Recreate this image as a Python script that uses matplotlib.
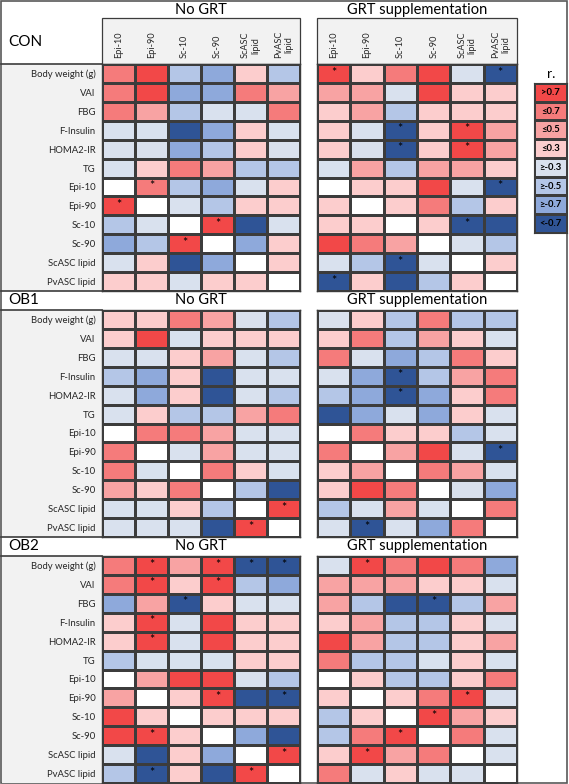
import numpy as np
import matplotlib
matplotlib.use('Agg')
import matplotlib.pyplot as plt
from matplotlib.colors import ListedColormap, BoundaryNorm
from matplotlib.patches import Rectangle

plt.rcParams['font.family'] = ['Lato', 'DejaVu Sans']

rows = ['Body weight (g)', 'VAI', 'FBG', 'F-Insulin', 'HOMA2-IR', 'TG',
        'Epi-10', 'Epi-90', 'Sc-10', 'Sc-90', 'ScASC lipid', 'PvASC lipid']
cols = ['Epi-10', 'Epi-90', 'Sc-10', 'Sc-90', 'ScASC\nlipid', 'PvASC\nlipid']
groups = ['CON', 'OB1', 'OB2']
treatments = ['No GRT', 'GRT supplementation']

# r bins: 4 >0.7, 3 <=0.7, 2 <=0.5, 1 <=0.3, -1 >=-0.3, -2 >=-0.5, -3 >=-0.7, -4 <-0.7, 0 = self
con_no = [[3, 4, -2, -3, 1, -2],
          [3, 4, -3, -3, 3, 2],
          [3, 2, -2, -1, -1, 3],
          [-1, -1, -4, -3, 1, -1],
          [-1, -1, -3, -2, 1, -1],
          [-1, 1, 3, 2, -2, -2],
          [0, 3, -2, -3, -1, 1],
          [4, 0, -1, -2, 1, 1],
          [-2, -1, 0, 4, -4, -1],
          [-3, -2, 4, 0, -3, 1],
          [-1, 1, -4, -3, 0, 1],
          [1, 1, -1, 1, 1, 0]]
con_grt = [[4, 1, 3, 4, -1, -4],
           [2, 2, -1, 4, 1, 1],
           [1, 2, -2, 1, 1, 1],
           [1, -1, -4, 1, 4, 2],
           [1, -1, -4, 1, 4, 2],
           [-1, 2, -2, 2, 2, 1],
           [0, 1, 1, 4, -1, -4],
           [1, 0, 1, 3, -2, 1],
           [1, 1, 0, 1, -4, -4],
           [4, 3, 2, 0, -1, -2],
           [-1, -2, -4, -1, 0, 1],
           [-4, 1, -4, -2, 1, 0]]
ob1_no = [[1, 1, 3, 2, -1, -2],
          [1, 4, -1, 1, 1, 1],
          [-1, -1, 1, 2, -1, -2],
          [-2, -3, 1, -4, -1, -1],
          [-1, -3, 1, -4, -1, -2],
          [-1, 1, -2, -2, 2, 3],
          [0, 3, 3, 2, -1, -1],
          [3, 0, -1, 2, -1, -1],
          [3, -1, 0, 3, 1, -1],
          [2, 1, 3, 0, -2, -4],
          [-1, -1, 1, -2, 0, 4],
          [-1, -1, -1, -4, 4, 0]]
ob1_grt = [[-1, 1, -2, 3, -2, -2],
           [1, 3, -2, 2, 1, -1],
           [3, -1, -3, -2, 3, 1],
           [-1, -3, -4, -2, 2, 3],
           [-2, -3, -4, -3, 1, 3],
           [-4, -3, -1, -3, 1, -1],
           [0, 3, 1, 1, -2, -1],
           [3, 0, 2, 4, -1, -4],
           [1, 2, 0, 3, 2, -1],
           [1, 4, 3, 0, -1, -3],
           [-2, -1, 2, -1, 0, 3],
           [-1, -4, -1, -3, 3, 0]]
ob2_no = [[3, 4, 2, 4, -4, -4],
          [3, 4, 1, 4, -2, -3],
          [-3, 2, -4, 1, -1, -1],
          [1, 4, -1, 4, 1, 1],
          [1, 4, -1, 4, 1, 1],
          [-2, -1, -1, -1, 1, 1],
          [0, 2, 4, 4, -1, -2],
          [2, 0, 1, 4, -4, -4],
          [4, 1, 0, 1, 1, 1],
          [4, 4, 1, 0, -3, -4],
          [-1, -4, 1, -3, 0, 4],
          [-2, -4, 1, -4, 4, 0]]
ob2_grt = [[-1, 4, 3, 4, 3, -3],
           [2, 2, 2, 1, 1, -1],
           [2, -2, -4, -4, -2, 2],
           [1, 2, -2, -2, 1, -1],
           [4, 2, -2, -2, 1, 2],
           [3, -2, -2, -1, 1, -1],
           [0, 1, -2, -2, 1, 3],
           [1, 0, 1, 3, 4, -1],
           [-2, 1, 0, 4, 2, 1],
           [-2, 3, 4, 0, 3, -1],
           [1, 4, 2, 3, 0, -1],
           [3, -1, 1, -1, -1, 0]]

# significant cells (row, col)
con_no_sig = [(6, 1), (7, 0), (8, 3), (9, 2)]
con_grt_sig = [(0, 0), (0, 5), (3, 2), (3, 4), (4, 2), (4, 4), (6, 5), (8, 4), (10, 2), (11, 0)]
ob1_no_sig = [(10, 5), (11, 4)]
ob1_grt_sig = [(3, 2), (4, 2), (7, 5), (11, 1)]
ob2_no_sig = [(0, 1), (0, 3), (0, 4), (0, 5), (1, 1), (1, 3), (2, 2), (3, 1), (4, 1),
              (7, 3), (7, 5), (9, 1), (10, 5), (11, 1), (11, 4)]
ob2_grt_sig = [(0, 1), (2, 3), (7, 4), (8, 3), (9, 2), (10, 1)]

bin_labels = ['>0.7', '≤0.7', '≤0.5', '≤0.3', '≥-0.3', '≥-0.5', '≥-0.7', '<-0.7']
bin_levels = [4, 3, 2, 1, -1, -2, -3, -4]

panels = {('CON', 0): (con_no, con_no_sig), ('CON', 1): (con_grt, con_grt_sig),
          ('OB1', 0): (ob1_no, ob1_no_sig), ('OB1', 1): (ob1_grt, ob1_grt_sig),
          ('OB2', 0): (ob2_no, ob2_no_sig), ('OB2', 1): (ob2_grt, ob2_grt_sig)}

cmap = ListedColormap(['#2F5496', '#8EA9DB', '#B4C6E7', '#D9E1EE', '#FFFFFF',
                       '#FCCDCD', '#F8A3A3', '#F57B7B', '#F24848'])
norm = BoundaryNorm(np.arange(-4.5, 5, 1), cmap.N)
edge = '#3C3C3C'

W, H = 569, 784


def fbox(x0, y0, x1, y1):
    return [x0 / W, 1 - y1 / H, (x1 - x0) / W, (y1 - y0) / H]


fig = plt.figure(figsize=(W / 100, H / 100), dpi=100)
bg = fig.add_axes([0, 0, 1, 1])
bg.set_xlim(0, W)
bg.set_ylim(H, 0)
bg.axis('off')

tops = [64, 310, 556]
hx = [(102, 300), (317, 517)]
hh = 227

# frame and header bands
bg.add_patch(Rectangle((1, 1), 566, 782, fill=False, ec='#595959', lw=1.2))
for x0, x1 in hx:
    bg.add_patch(Rectangle((x0, 18), x1 - x0, 46, fc='#F2F2F2', ec=edge, lw=0.9))
for gi, g in enumerate(groups):
    top = tops[gi]
    bg.add_patch(Rectangle((2, top), 100, hh, fc='#F2F2F2', ec='none'))
    bg.plot([1, 102], [top, top], color=edge, lw=1.2)
    ty = 42 if gi == 0 else top - 10
    bg.text(8, ty, g, fontsize=11, va='center', ha='left')
    hy = 10 if gi == 0 else top - 10
    if gi > 0:
        bg.plot([1, 300], [top - 19, top - 19], color=edge, lw=1.2)
    for ti, t in enumerate(treatments):
        bg.text((hx[ti][0] + hx[ti][1]) / 2, hy, t, fontsize=10.5, ha='center', va='center')

for gi, g in enumerate(groups):
    for ti in range(2):
        vals, sig = panels[(g, ti)]
        x0, x1 = hx[ti]
        ax = fig.add_axes(fbox(x0, tops[gi], x1, tops[gi] + hh))
        ax.pcolormesh(np.array(vals), cmap=cmap, norm=norm, edgecolors=edge, linewidth=0.75)
        ax.set_xlim(0, 6)
        ax.set_ylim(12, 0)
        for r, c in sig:
            ax.text(c + 0.5, r + 0.45, '*', ha='center', va='center', fontsize=9, color='black')
        ax.tick_params(length=0)
        if ti == 0:
            ax.set_yticks(np.arange(12) + 0.5)
            ax.set_yticklabels(rows, fontsize=6.8, color='#262626')
            ax.tick_params(axis='y', pad=4.5)
        else:
            ax.set_yticks([])
        if gi == 0:
            ax.xaxis.tick_top()
            ax.set_xticks(np.arange(6) + 0.5)
            ax.set_xticklabels(cols, rotation=90, fontsize=6.6, va='bottom', color='#262626')
            ax.tick_params(axis='x', pad=4)
        else:
            ax.set_xticks([])
        for s in ax.spines.values():
            s.set_color(edge)
            s.set_linewidth(1)

# legend
bg.text(551, 74, 'r.', fontsize=10, ha='center', va='center')
lax = fig.add_axes(fbox(534, 83, 567, 233))
lax.pcolormesh(np.array(bin_levels).reshape(-1, 1), cmap=cmap, norm=norm,
               edgecolors=edge, linewidth=0.75)
lax.set_xlim(0, 1)
lax.set_ylim(len(bin_levels), 0)
for i, lab in enumerate(bin_labels):
    lax.text(0.5, i + 0.5, lab, ha='center', va='center', fontsize=6.8, fontweight='bold')
lax.set_xticks([])
lax.set_yticks([])
for s in lax.spines.values():
    s.set_color(edge)

fig.savefig('out.png', dpi=100)
